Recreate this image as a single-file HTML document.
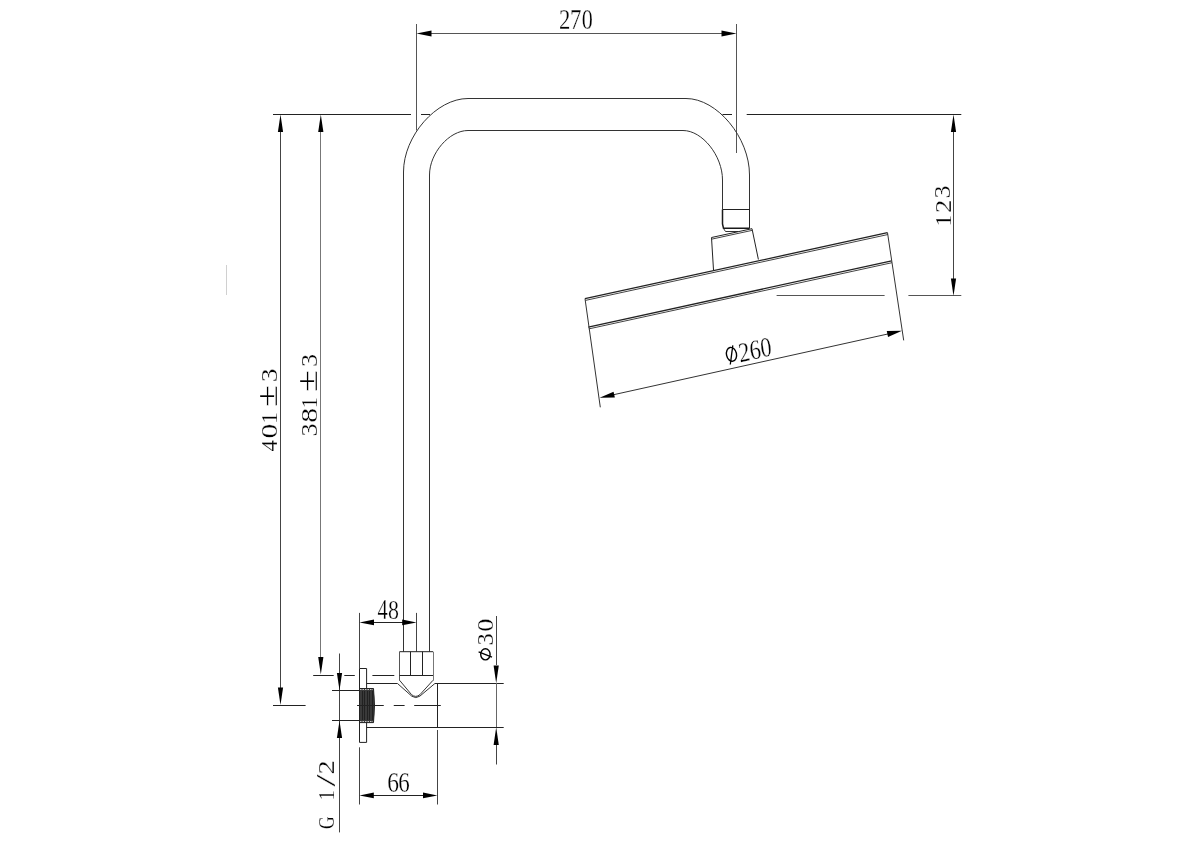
<!DOCTYPE html>
<html><head><meta charset="utf-8"><style>
html,body{margin:0;padding:0;background:#fff;width:1200px;height:842px;overflow:hidden}
svg{display:block;will-change:transform}
text{font-family:"Liberation Serif",serif}
</style></head><body>
<svg width="1200" height="842" viewBox="0 0 1200 842">
<rect width="1200" height="842" fill="#fff"/>
<line x1="416.5" y1="24" x2="416.5" y2="130.5" stroke="#555" stroke-width="1.0"/>
<line x1="736.5" y1="24" x2="736.5" y2="153" stroke="#555" stroke-width="1.0"/>
<line x1="430" y1="33.5" x2="722" y2="33.5" stroke="#555" stroke-width="1.0"/>
<path d="M416.50,33.50 L431.50,36.50 L431.50,30.50 Z" fill="#000"/>
<path d="M736.50,33.50 L721.50,30.50 L721.50,36.50 Z" fill="#000"/>
<text transform="translate(559.08,29.10) scale(1.13750,1.45455)" font-size="20" fill="#000" stroke="#fff" stroke-width="0.2">2</text>
<text transform="translate(569.91,29.10) scale(1.14815,1.46565)" font-size="20" fill="#000" stroke="#fff" stroke-width="0.2">7</text>
<text transform="translate(581.71,28.82) scale(1.10714,1.42222)" font-size="20" fill="#000" stroke="#fff" stroke-width="0.2">0</text>
<line x1="273" y1="114.5" x2="411" y2="114.5" stroke="#222" stroke-width="1.0"/>
<line x1="421" y1="114.5" x2="430" y2="114.5" stroke="#222" stroke-width="1.0"/>
<line x1="722.5" y1="114.5" x2="732" y2="114.5" stroke="#222" stroke-width="1.0"/>
<line x1="746.7" y1="114.5" x2="961.3" y2="114.5" stroke="#222" stroke-width="1.0"/>
<path d="M403.5,651.7 L403.5,172 C403.5,135.985 436.395,98.5 468,98.5 L686,98.5 C717.115,98.5 749.5,137.515 749.5,175 L749.5,209.5" stroke="#333" stroke-width="1.0" fill="none"/>
<path d="M429.5,651.7 L429.5,175 C429.5,153.195 449.135,130.5 468,130.5 L683,130.5 C702.355,130.5 722.5,155.745 722.5,180 L722.5,209.5" stroke="#333" stroke-width="1.0" fill="none"/>
<path d="M722.5,209.5 L749.5,209.5 M749.5,209 L749.5,228.5" stroke="#222" stroke-width="1.0" fill="none"/>
<path d="M722.5,209.5 L722.5,224 L723.5,228.2 L749.5,228.2" stroke="#1a1a1a" stroke-width="1.5" fill="none"/>
<path d="M723.5,228.5 L725.5,231.5 L738,231.5" stroke="#333" stroke-width="1.0" fill="none"/>
<path d="M711.5,237.5 L752,228.7 L758.4,259.5 M711.5,237.5 L713.5,270" stroke="#222" stroke-width="1.0" fill="none"/>
<line x1="711.5" y1="239.2" x2="752" y2="230.4" stroke="#444" stroke-width="1.0"/>
<line x1="585" y1="298.6" x2="887.5" y2="232.7" stroke="#222" stroke-width="1.3"/>
<line x1="585.5" y1="300.4" x2="888" y2="234.5" stroke="#444" stroke-width="1.0"/>
<line x1="588.3" y1="327.1" x2="891.6" y2="260.9" stroke="#222" stroke-width="1.3"/>
<line x1="588.8" y1="328.9" x2="892" y2="262.7" stroke="#444" stroke-width="1.0"/>
<line x1="585" y1="298.6" x2="600.3" y2="407.3" stroke="#333" stroke-width="1.0"/>
<line x1="887.5" y1="232.7" x2="903.7" y2="340.4" stroke="#333" stroke-width="1.0"/>
<line x1="610" y1="395.5" x2="890" y2="333.5" stroke="#333" stroke-width="1.0"/>
<path d="M599.60,397.80 L614.84,397.53 L613.56,391.67 Z" fill="#000"/>
<path d="M902.00,330.80 L886.76,331.07 L888.04,336.93 Z" fill="#000"/>
<text transform="translate(755.10,349.80) scale(1,1.22) rotate(-10.3) scale(1.11000,1.14000) translate(-15.0500,6.5500)" font-size="20" fill="#000" stroke="#fff" stroke-width="0.2">260</text>
<ellipse cx="731.5" cy="354.3" rx="5.0" ry="7.0" transform="rotate(-12 731.5 354.3)" fill="none" stroke="#000" stroke-width="1.4"/>
<line x1="730.3" y1="364.5" x2="732.8" y2="345.3" stroke="#000" stroke-width="1.3"/>
<line x1="776.6" y1="295.5" x2="884.6" y2="295.5" stroke="#555" stroke-width="1.0"/>
<line x1="908.4" y1="295.5" x2="961.3" y2="295.5" stroke="#555" stroke-width="1.0"/>
<line x1="953.5" y1="130" x2="953.5" y2="280" stroke="#444" stroke-width="1.0"/>
<path d="M953.50,114.50 L950.90,132.00 L956.10,132.00 Z" fill="#000"/>
<path d="M953.50,295.90 L956.10,278.40 L950.90,278.40 Z" fill="#000"/>
<text transform="translate(950.47,198.40) rotate(-90) scale(1.30488,1.14179)" font-size="20" fill="#000" stroke="#fff" stroke-width="0.2">3</text>
<text transform="translate(950.70,212.90) rotate(-90) scale(1.33750,1.15909)" font-size="20" fill="#000" stroke="#fff" stroke-width="0.2">2</text>
<text transform="translate(950.70,226.36) rotate(-90) scale(1.14286,1.15909)" font-size="20" fill="#000" stroke="#fff" stroke-width="0.2">1</text>
<line x1="280.5" y1="130" x2="280.5" y2="690" stroke="#444" stroke-width="1.0"/>
<path d="M280.50,114.50 L277.90,132.00 L283.10,132.00 Z" fill="#000"/>
<path d="M280.50,705.00 L283.10,687.50 L277.90,687.50 Z" fill="#000"/>
<line x1="273" y1="705.5" x2="305.6" y2="705.5" stroke="#222" stroke-width="1.0"/>
<text transform="translate(276.78,382.18) rotate(-90) scale(1.37805,1.11194)" font-size="20" fill="#000" stroke="#fff" stroke-width="0.2">3</text>
<text transform="translate(277.20,407.33) rotate(-90) scale(2.04301,1.44248)" font-size="20" fill="#000" stroke="#fff" stroke-width="0.2">±</text>
<text transform="translate(277.00,423.96) rotate(-90) scale(1.20000,1.10606)" font-size="20" fill="#000" stroke="#fff" stroke-width="0.2">1</text>
<text transform="translate(276.78,438.39) rotate(-90) scale(1.48810,1.10370)" font-size="20" fill="#000" stroke="#fff" stroke-width="0.2">0</text>
<text transform="translate(277.00,451.45) rotate(-90) scale(1.12903,1.12879)" font-size="20" fill="#000" stroke="#fff" stroke-width="0.2">4</text>
<line x1="320.5" y1="130" x2="320.5" y2="660" stroke="#777" stroke-width="1.0"/>
<path d="M320.80,114.50 L318.20,132.00 L323.40,132.00 Z" fill="#000"/>
<path d="M320.80,674.50 L323.40,657.00 L318.20,657.00 Z" fill="#000"/>
<text transform="translate(316.78,367.10) rotate(-90) scale(1.30488,1.11194)" font-size="20" fill="#000" stroke="#fff" stroke-width="0.2">3</text>
<text transform="translate(317.40,392.33) rotate(-90) scale(2.04301,1.46018)" font-size="20" fill="#000" stroke="#fff" stroke-width="0.2">±</text>
<text transform="translate(317.00,408.21) rotate(-90) scale(1.11429,1.10606)" font-size="20" fill="#000" stroke="#fff" stroke-width="0.2">1</text>
<text transform="translate(316.78,422.79) rotate(-90) scale(1.48810,1.10370)" font-size="20" fill="#000" stroke="#fff" stroke-width="0.2">8</text>
<text transform="translate(316.78,436.60) rotate(-90) scale(1.30488,1.11194)" font-size="20" fill="#000" stroke="#fff" stroke-width="0.2">3</text>
<line x1="313.2" y1="675.5" x2="333.7" y2="675.5" stroke="#222" stroke-width="1.0"/>
<line x1="344.3" y1="675.5" x2="354.8" y2="675.5" stroke="#222" stroke-width="1.0"/>
<line x1="372.4" y1="675.5" x2="394.3" y2="675.5" stroke="#222" stroke-width="1.0"/>
<line x1="226.5" y1="265" x2="226.5" y2="295" stroke="#c4c4c4" stroke-width="0.8"/>
<line x1="339.5" y1="653.5" x2="339.5" y2="832.4" stroke="#444" stroke-width="1.0"/>
<path d="M339.50,690.30 L342.10,673.00 L336.90,673.00 Z" fill="#000"/>
<path d="M339.50,720.70 L336.90,738.00 L342.10,738.00 Z" fill="#000"/>
<line x1="332" y1="690.5" x2="359.5" y2="690.5" stroke="#222" stroke-width="1.0"/>
<line x1="332" y1="720.5" x2="359.5" y2="720.5" stroke="#222" stroke-width="1.0"/>
<text transform="translate(334.30,774.38) rotate(-90) scale(1.42500,1.15152)" font-size="20" fill="#000" stroke="#fff" stroke-width="0.2">2</text>
<text transform="translate(335.02,786.80) rotate(-90) scale(2.23636,1.38060)" font-size="20" fill="#000" stroke="#fff" stroke-width="0.2">/</text>
<text transform="translate(334.30,800.65) rotate(-90) scale(1.08571,1.15152)" font-size="20" fill="#000" stroke="#fff" stroke-width="0.2">1</text>
<text transform="translate(334.06,828.90) rotate(-90) scale(0.87692,1.20149)" font-size="20" fill="#000" stroke="#fff" stroke-width="0.2">G</text>
<line x1="359.5" y1="612.9" x2="359.5" y2="668.5" stroke="#444" stroke-width="1.0"/>
<line x1="416.5" y1="612.9" x2="416.5" y2="651.7" stroke="#444" stroke-width="1.0"/>
<line x1="372" y1="622.5" x2="404" y2="622.5" stroke="#222" stroke-width="1.0"/>
<path d="M359.50,622.40 L374.00,625.20 L374.00,619.60 Z" fill="#000"/>
<path d="M416.50,622.40 L402.20,619.60 L402.20,625.20 Z" fill="#000"/>
<text transform="translate(377.49,619.10) scale(1.02151,1.43939)" font-size="20" fill="#000" stroke="#fff" stroke-width="0.2">4</text>
<text transform="translate(388.02,618.82) scale(1.09524,1.40741)" font-size="20" fill="#000" stroke="#fff" stroke-width="0.2">8</text>
<path d="M359.5,668.5 L366.6,668.5 L366.6,742.4 L359.5,742.4 Z" stroke="#222" stroke-width="1.0" fill="none"/>
<path d="M359.5,688.5 L373.5,688.5 Q375.5,705 373.5,722.6 L359.5,722.6 Z" stroke="#222" stroke-width="1.0" fill="#3a3a3a"/>
<line x1="362.5" y1="691" x2="362.5" y2="720" stroke="#1a1a1a" stroke-width="0.8"/>
<line x1="364.5" y1="691" x2="364.5" y2="720" stroke="#1a1a1a" stroke-width="0.8"/>
<line x1="367.5" y1="691" x2="367.5" y2="720" stroke="#1a1a1a" stroke-width="0.8"/>
<line x1="369.5" y1="691" x2="369.5" y2="720" stroke="#1a1a1a" stroke-width="0.8"/>
<line x1="372.5" y1="691" x2="372.5" y2="720" stroke="#1a1a1a" stroke-width="0.8"/>
<line x1="360" y1="689.5" x2="373" y2="689.5" stroke="#eee" stroke-width="0.8" stroke-dasharray="1.5,1"/>
<line x1="360" y1="721.5" x2="373" y2="721.5" stroke="#eee" stroke-width="0.8" stroke-dasharray="1.5,1"/>
<line x1="366.6" y1="683.5" x2="397.5" y2="683.5" stroke="#222" stroke-width="1.0"/>
<line x1="434.9" y1="683.5" x2="503.7" y2="683.5" stroke="#222" stroke-width="1.0"/>
<line x1="366.6" y1="727.5" x2="503.7" y2="727.5" stroke="#222" stroke-width="1.0"/>
<line x1="437.5" y1="683.2" x2="437.5" y2="727.3" stroke="#222" stroke-width="1.0"/>
<line x1="437.5" y1="730" x2="437.5" y2="804.5" stroke="#444" stroke-width="1.0"/>
<path d="M399.5,651.7 L433,651.7" stroke="#222" stroke-width="1.0" fill="none"/>
<line x1="399.5" y1="651.7" x2="399.5" y2="680.5" stroke="#555" stroke-width="1.0"/>
<line x1="433.5" y1="651.7" x2="433.5" y2="680.5" stroke="#777" stroke-width="1.0"/>
<line x1="399.5" y1="675.5" x2="433" y2="675.5" stroke="#222" stroke-width="1.0"/>
<line x1="410.5" y1="651.7" x2="410.5" y2="675.4" stroke="#222" stroke-width="1.0"/>
<line x1="422.5" y1="651.7" x2="422.5" y2="675.4" stroke="#222" stroke-width="1.0"/>
<path d="M399.6,680.3 L411.5,694.6 Q415.7,698.2 420,694.6 L433,680.3" stroke="#333" stroke-width="1.0" fill="none"/>
<path d="M397.5,683.5 L411.8,696.2 Q415.7,699 419.8,696.2 L434.9,683.5" stroke="#333" stroke-width="1.0" fill="none"/>
<line x1="357.1" y1="705.5" x2="383.75" y2="705.5" stroke="#222" stroke-width="1.0"/>
<line x1="393.75" y1="705.5" x2="404.6" y2="705.5" stroke="#222" stroke-width="1.0"/>
<line x1="414.2" y1="705.5" x2="440.8" y2="705.5" stroke="#222" stroke-width="1.0"/>
<line x1="496.5" y1="616" x2="496.5" y2="665" stroke="#444" stroke-width="1.0"/>
<line x1="496.5" y1="745" x2="496.5" y2="764.5" stroke="#444" stroke-width="1.0"/>
<line x1="496.5" y1="683" x2="496.5" y2="727" stroke="#666" stroke-width="1.0"/>
<path d="M496.20,683.20 L498.80,665.50 L493.60,665.50 Z" fill="#000"/>
<path d="M496.20,727.30 L493.60,745.00 L498.80,745.00 Z" fill="#000"/>
<text transform="translate(492.97,631.76) rotate(-90) scale(1.32143,1.12593)" font-size="20" fill="#000" stroke="#fff" stroke-width="0.2">0</text>
<text transform="translate(492.97,645.42) rotate(-90) scale(1.21951,1.13433)" font-size="20" fill="#000" stroke="#fff" stroke-width="0.2">3</text>
<ellipse cx="485.4" cy="654.3" rx="4.7" ry="5.6" fill="none" stroke="#000" stroke-width="1.4"/>
<line x1="478.6" y1="651.9" x2="492" y2="657.2" stroke="#000" stroke-width="1.3"/>
<line x1="359.5" y1="747.3" x2="359.5" y2="804.5" stroke="#444" stroke-width="1.0"/>
<line x1="372" y1="795.5" x2="424" y2="795.5" stroke="#222" stroke-width="1.0"/>
<path d="M359.50,795.40 L373.80,798.20 L373.80,792.60 Z" fill="#000"/>
<path d="M437.40,795.40 L423.00,792.60 L423.00,798.20 Z" fill="#000"/>
<text transform="translate(387.34,791.81) scale(1.17647,1.44776)" font-size="20" fill="#000" stroke="#fff" stroke-width="0.2">6</text>
<text transform="translate(398.26,791.81) scale(1.15294,1.44776)" font-size="20" fill="#000" stroke="#fff" stroke-width="0.2">6</text>
</svg>
</body></html>
